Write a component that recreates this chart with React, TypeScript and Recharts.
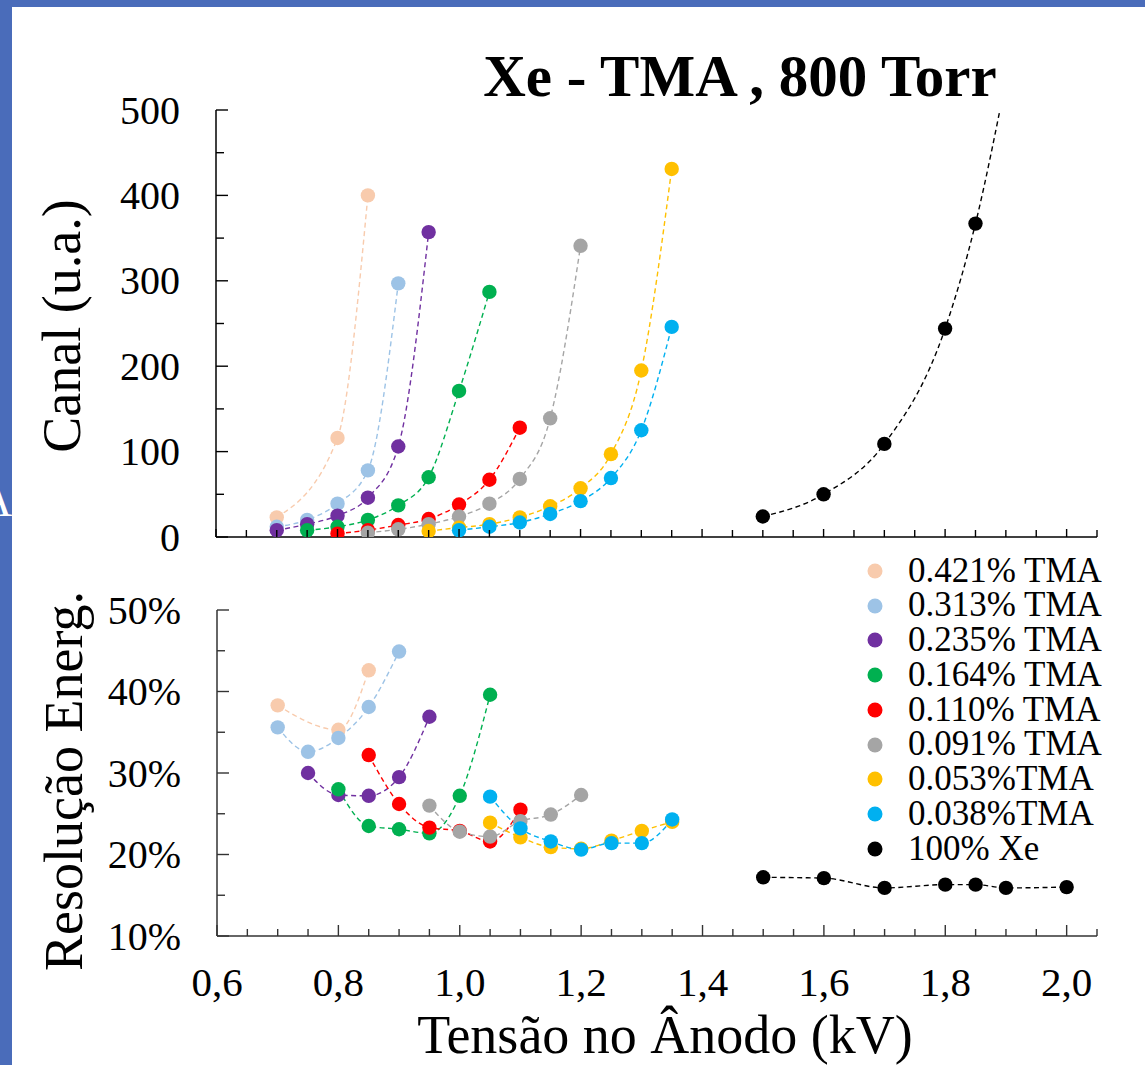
import { Legend, Line, LineChart, XAxis, YAxis } from 'recharts';

const FONT = "'Liberation Serif', 'Times New Roman', serif";
const BLUE = '#4a6cba';

// x axis (kV)
const VOLT_TICKS = [
  0.6, 0.65, 0.7, 0.75, 0.8, 0.85, 0.9, 0.95, 1.0, 1.05, 1.1, 1.15, 1.2, 1.25, 1.3,
  1.35, 1.4, 1.45, 1.5, 1.55, 1.6, 1.65, 1.7, 1.75, 1.8, 1.85, 1.9, 1.95, 2.0, 2.05,
];
const VOLT_LABELS = [
  '0,6', '', '', '', '0,8', '', '', '', '1,0', '', '', '', '1,2', '', '',
  '', '1,4', '', '', '', '1,6', '', '', '', '1,8', '', '', '', '2,0', '',
];

// top panel: canal
const CANAL_TICKS = [0, 50, 100, 150, 200, 250, 300, 350, 400, 450, 500];
const CANAL_LABELS = ['0', '', '100', '', '200', '', '300', '', '400', '', '500'];

// bottom panel: resolution (%)
const RES_TICKS = [10, 15, 20, 25, 30, 35, 40, 45, 50];
const RES_LABELS = ['10%', '', '20%', '', '30%', '', '40%', '', '50%'];

// 0.421% TMA
const V_421 = [0.7, 0.8, 0.85];
const CANAL_421 = [23, 116, 400];
const RES_421 = [38.3, 35.3, 42.6];

// 0.313% TMA
const V_313 = [0.7, 0.75, 0.8, 0.85, 0.9];
const CANAL_313 = [12, 20, 39, 78, 297];
const RES_313 = [35.6, 32.6, 34.3, 38.1, 44.9];

// 0.235% TMA
const CANAL_V_235 = [0.7, 0.75, 0.8, 0.85, 0.9, 0.95];
const CANAL_235 = [8, 15, 25, 46, 106, 357];
const RES_V_235 = [0.75, 0.8, 0.85, 0.9, 0.95];
const RES_235 = [30.0, 27.3, 27.2, 29.5, 36.9];

// 0.164% TMA
const CANAL_V_164 = [0.75, 0.8, 0.85, 0.9, 0.95, 1.0, 1.05];
const CANAL_164 = [8, 12, 20, 37, 70, 171, 287];
const RES_V_164 = [0.8, 0.85, 0.9, 0.95, 1.0, 1.05];
const RES_164 = [28.0, 23.5, 23.1, 22.6, 27.2, 39.6];

// 0.110% TMA
const CANAL_V_110 = [0.8, 0.85, 0.9, 0.95, 1.0, 1.05, 1.1];
const CANAL_110 = [4, 8, 14, 21, 38, 67, 128];
const RES_V_110 = [0.85, 0.9, 0.95, 1.0, 1.05, 1.1];
const RES_110 = [32.2, 26.2, 23.3, 22.9, 21.6, 25.5];

// 0.091% TMA
const CANAL_V_091 = [0.85, 0.9, 0.95, 1.0, 1.05, 1.1, 1.15, 1.2];
const CANAL_091 = [5, 9, 15, 24, 39, 68, 139, 341];
const RES_V_091 = [0.95, 1.0, 1.05, 1.1, 1.15, 1.2];
const RES_091 = [26.0, 22.8, 22.2, 24.1, 24.9, 27.3];

// 0.053% TMA
const CANAL_V_053 = [0.95, 1.0, 1.05, 1.1, 1.15, 1.2, 1.25, 1.3, 1.35];
const CANAL_053 = [7, 11, 15, 23, 36, 57, 97, 195, 431];
const RES_V_053 = [1.05, 1.1, 1.15, 1.2, 1.25, 1.3, 1.35];
const RES_053 = [23.9, 22.1, 20.9, 20.7, 21.7, 22.9, 24.0];

// 0.038% TMA
const CANAL_V_038 = [1.0, 1.05, 1.1, 1.15, 1.2, 1.25, 1.3, 1.35];
const CANAL_038 = [8, 12, 17, 27, 42, 69, 125, 246];
const RES_V_038 = [1.05, 1.1, 1.15, 1.2, 1.25, 1.3, 1.35];
const RES_038 = [27.1, 23.2, 21.6, 20.6, 21.4, 21.4, 24.3];

// 100% Xe (+ the fitted curve running off the top of the panel)
const CANAL_V_XE = [1.5, 1.6, 1.7, 1.8, 1.85];
const CANAL_XE = [24, 50, 109, 244, 367];
const XE_FIT_V = 1.9;
const XE_FIT_CANAL = 535;
const RES_V_XE = [1.5, 1.6, 1.7, 1.8, 1.85, 1.9, 2.0];
const RES_XE = [17.2, 17.1, 15.9, 16.3, 16.3, 15.9, 16.0];

type Pt = { v: number; y: number; fit?: boolean };
const pts = (xs: number[], ys: number[]): Pt[] => xs.map((v, i) => ({ v, y: ys[i] }));

const SERIES = [
  { name: '0.421% TMA', color: '#f8cbad', canal: pts(V_421, CANAL_421), res: pts(V_421, RES_421) },
  { name: '0.313% TMA', color: '#9dc3e6', canal: pts(V_313, CANAL_313), res: pts(V_313, RES_313) },
  { name: '0.235% TMA', color: '#7030a0', canal: pts(CANAL_V_235, CANAL_235), res: pts(RES_V_235, RES_235) },
  { name: '0.164% TMA', color: '#00b050', canal: pts(CANAL_V_164, CANAL_164), res: pts(RES_V_164, RES_164) },
  { name: '0.110% TMA', color: '#ff0000', canal: pts(CANAL_V_110, CANAL_110), res: pts(RES_V_110, RES_110) },
  { name: '0.091% TMA', color: '#a5a5a5', canal: pts(CANAL_V_091, CANAL_091), res: pts(RES_V_091, RES_091) },
  { name: '0.053%TMA', color: '#ffc000', canal: pts(CANAL_V_053, CANAL_053), res: pts(RES_V_053, RES_053) },
  { name: '0.038%TMA', color: '#00b0f0', canal: pts(CANAL_V_038, CANAL_038), res: pts(RES_V_038, RES_038) },
  {
    name: '100% Xe',
    color: '#000000',
    canal: [...pts(CANAL_V_XE, CANAL_XE), { v: XE_FIT_V, y: XE_FIT_CANAL, fit: true }],
    res: pts(RES_V_XE, RES_XE),
  },
];

const findLabel = (ticks: number[], labels: string[], value: number) => {
  const i = ticks.findIndex((t) => Math.abs(t - value) < 1e-6);
  return i >= 0 ? labels[i] : '';
};

function XTick(props: any) {
  const { x, y, payload, showLabels, color, majorLen } = props;
  const label = findLabel(VOLT_TICKS, VOLT_LABELS, payload.value);
  const len = label ? majorLen : 7;
  return (
    <g>
      <line x1={x} y1={y} x2={x} y2={y - len} stroke={color} strokeWidth={1.4} />
      {showLabels && label ? (
        <text x={x} y={y + 60} textAnchor="middle" fontSize={41} fontFamily={FONT} fill="#000">
          {label}
        </text>
      ) : null}
    </g>
  );
}

function YTick(props: any) {
  const { x, y, payload, ticks, labels, color } = props;
  const label = findLabel(ticks, labels, payload.value);
  const len = label ? 12 : 8;
  return (
    <g>
      <line x1={x} y1={y} x2={x + len} y2={y} stroke={color} strokeWidth={1.4} />
      {label ? (
        <text x={x - 36} y={y + 13.5} textAnchor="end" fontSize={40} fontFamily={FONT} fill="#000">
          {label}
        </text>
      ) : null}
    </g>
  );
}

const dotFor = (color: string) => (p: any) =>
  p.payload && p.payload.fit ? (
    <g key={`d${p.index}`} />
  ) : (
    <circle key={`d${p.index}`} cx={p.cx} cy={p.cy} r={7.2} fill={color} stroke="none" />
  );

function LegendBox() {
  return (
    <div style={{ fontFamily: FONT }}>
      {SERIES.map((s) => (
        <div key={s.name} style={{ display: 'flex', alignItems: 'center', height: 34.75 }}>
          <svg width={18} height={18} style={{ display: 'block' }}>
            <circle cx={9} cy={9} r={7.5} fill={s.color} />
          </svg>
          <span
            style={{
              marginLeft: 24,
              fontSize: 35,
              lineHeight: '34.75px',
              whiteSpace: 'pre',
              color: '#000',
            }}
          >
            {s.name}
          </span>
        </div>
      ))}
    </div>
  );
}

export default function App() {
  return (
    <div
      style={{
        position: 'absolute',
        left: 0,
        top: 0,
        width: 1145,
        height: 1065,
        background: BLUE,
        overflow: 'hidden',
      }}
    >
      <div style={{ position: 'absolute', left: 12, top: 7, right: 0, bottom: 0, background: '#fff' }} />

      <div style={{ position: 'absolute', left: 0, top: 0 }}>
        <LineChart width={1145} height={560} margin={{ top: 110, right: 48, bottom: 3, left: 156 }}>
          <XAxis
            type="number"
            dataKey="v"
            domain={[0.6, 2.05]}
            ticks={VOLT_TICKS}
            interval={0}
            height={20}
            tickSize={0}
            tickMargin={0}
            tickLine={false}
            axisLine={{ stroke: '#000', strokeWidth: 1.5 }}
            tick={(p: any) => <XTick {...p} showLabels={false} color="#000" majorLen={8} />}
            allowDataOverflow
          />
          <YAxis
            type="number"
            domain={[0, 500]}
            ticks={CANAL_TICKS}
            interval={0}
            width={60}
            tickSize={0}
            tickMargin={0}
            tickLine={false}
            axisLine={{ stroke: '#000', strokeWidth: 1.5 }}
            tick={(p: any) => <YTick {...p} ticks={CANAL_TICKS} labels={CANAL_LABELS} color="#000" />}
            allowDataOverflow
          />
          {SERIES.map((s) => (
            <Line
              key={s.name}
              name={s.name}
              data={s.canal}
              dataKey="y"
              type="monotone"
              stroke={s.color}
              strokeWidth={1.4}
              strokeDasharray="5 3.5"
              dot={dotFor(s.color)}
              activeDot={false}
              isAnimationActive={false}
            />
          ))}
        </LineChart>
      </div>

      <div style={{ position: 'absolute', left: 0, top: 545 }}>
        <LineChart width={1145} height={520} margin={{ top: 65, right: 48, bottom: 69, left: 157 }}>
          <XAxis
            type="number"
            dataKey="v"
            domain={[0.6, 2.05]}
            ticks={VOLT_TICKS}
            interval={0}
            height={60}
            tickSize={0}
            tickMargin={0}
            tickLine={false}
            axisLine={{ stroke: '#333', strokeWidth: 1.5 }}
            tick={(p: any) => <XTick {...p} showLabels color="#333" majorLen={11} />}
            allowDataOverflow
          />
          <YAxis
            type="number"
            domain={[10, 50]}
            ticks={RES_TICKS}
            interval={0}
            width={60}
            tickSize={0}
            tickMargin={0}
            tickLine={false}
            axisLine={{ stroke: '#333', strokeWidth: 1.5 }}
            tick={(p: any) => <YTick {...p} ticks={RES_TICKS} labels={RES_LABELS} color="#333" />}
            allowDataOverflow
          />
          <Legend
            layout="vertical"
            align="center"
            verticalAlign="middle"
            wrapperStyle={{ left: 866, top: 8.6, width: 260 }}
            content={() => <LegendBox />}
          />
          {SERIES.map((s) => (
            <Line
              key={s.name}
              name={s.name}
              data={s.res}
              dataKey="y"
              type="monotone"
              stroke={s.color}
              strokeWidth={1.4}
              strokeDasharray="5 3.5"
              dot={dotFor(s.color)}
              activeDot={false}
              isAnimationActive={false}
            />
          ))}
        </LineChart>
      </div>

      <svg
        width={1145}
        height={1065}
        style={{ position: 'absolute', left: 0, top: 0, pointerEvents: 'none' }}
      >
        <text x={-21} y={516} fontSize={46} fontFamily={FONT} fill="#fff">
          A
        </text>
        <text x={740} y={96} textAnchor="middle" fontSize={59} fontWeight="bold" fontFamily={FONT} fill="#000">
          Xe - TMA , 800 Torr
        </text>
        <text
          x={80}
          y={326}
          textAnchor="middle"
          fontSize={54}
          fontFamily={FONT}
          fill="#000"
          transform="rotate(-90, 80, 326)"
        >
          Canal (u.a.)
        </text>
        <text
          x={82}
          y={781}
          textAnchor="middle"
          fontSize={54}
          fontFamily={FONT}
          fill="#000"
          transform="rotate(-90, 82, 781)"
        >
          Resolução Energ.
        </text>
        <text x={665} y={1053} textAnchor="middle" fontSize={54} fontFamily={FONT} fill="#000">
          Tensão no Ânodo (kV)
        </text>
      </svg>
    </div>
  );
}
